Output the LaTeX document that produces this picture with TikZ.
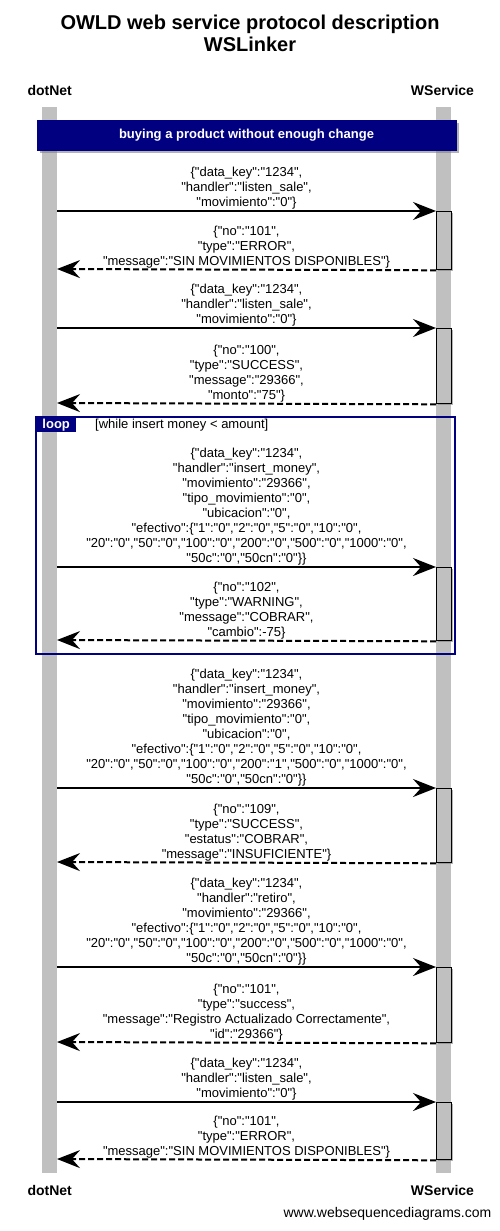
\documentclass[tikz,border=0pt]{standalone}
\usepackage{fontspec}
\setmainfont{Liberation Sans}[Ligatures=TeXOff]
\usetikzlibrary{arrows.meta, shadows}

\definecolor{navy}{RGB}{0,0,128}
\definecolor{lifegray}{RGB}{192,192,192}

\begin{document}
\begin{tikzpicture}[x=1pt, y=-1pt,
    txt/.style={font=\fontsize{13}{15}\selectfont, align=center, inner sep=0pt},
    actor/.style={font=\fontsize{14}{16}\selectfont\bfseries, inner sep=0pt},
    act/.style={draw, line width=1.3pt, fill=lifegray, minimum width=15pt, inner sep=0pt, anchor=north west,
      drop shadow={shadow xshift=1.5pt, shadow yshift=-1.5pt, opacity=0.6}},
    msg/.style={line width=2pt, -{Stealth[length=23pt, width=18pt, inset=8pt]}},
    ret/.style={msg, dash pattern=on 6pt off 3pt}
  ]
  \useasboundingbox (0,0) rectangle (500,1231);

  % title and participants
  \node[align=center, inner sep=0pt, font=\fontsize{20}{22}\selectfont\bfseries] (title) at (250,33)
    {OWLD web service protocol description\\WSLinker};
  \node[actor] (dotnet) at (49.7,90) {dotNet};
  \node[actor] (wservice) at (442.5,90) {WService};
  \node[actor] (dotnetb) at (49.7,1190) {dotNet};
  \node[actor] (wserviceb) at (442.5,1190) {WService};
  \node[anchor=east, inner sep=0pt, font=\fontsize{14}{16}\selectfont] (site) at (491.5,1214) {www.websequencediagrams.com};

  % lifelines
  \fill[lifegray] (42,107) rectangle (57,1173);
  \fill[lifegray] (436,107) rectangle (451,1173);

  % banner
  \node[fill=navy, draw=navy, text=white, minimum width=419pt, minimum height=30pt, inner sep=0pt,
    font=\fontsize{13}{15}\selectfont\bfseries, drop shadow={shadow xshift=2.5pt, shadow yshift=-2.5pt, opacity=0.6}]
    (banner) at (246.5,135) {buying a product without enough change};

  % loop frame
  \draw[navy, line width=2.5pt] (36,417) rectangle (455,654);
  \node[fill=navy, text=white, anchor=north west, minimum width=40pt, minimum height=15pt, inner sep=0pt,
    font=\fontsize{13}{15}\selectfont\bfseries] (looptag) at (36,417) {loop};
  \node[txt, anchor=west] (guard) at (95,425) {[while insert money < amount]};

  % activations
  \node[act, minimum height=58pt] (act1) at (436,211) {};
  \node[act, minimum height=75pt] (act2) at (436,328) {};
  \node[act, minimum height=73pt] (act3) at (436,567) {};
  \node[act, minimum height=74pt] (act4) at (436,788) {};
  \node[act, minimum height=75pt] (act5) at (436,967) {};
  \node[act, minimum height=57pt] (act6) at (436,1102) {};

  % ends on dotNet
  \coordinate (d1) at (57,211);  \coordinate (d1r) at (57,269);
  \coordinate (d2) at (57,328);  \coordinate (d2r) at (57,403);
  \coordinate (d3) at (57,567);  \coordinate (d3r) at (57,640);
  \coordinate (d4) at (57,788);  \coordinate (d4r) at (57,862);
  \coordinate (d5) at (57,967);  \coordinate (d5r) at (57,1042);
  \coordinate (d6) at (57,1102); \coordinate (d6r) at (57,1159);

  % messages
  \draw[msg] (d1) -- (act1.north west);
  \node[txt, anchor=south] (m1) at (246.5,209)
    {\{"data\_key":"1234",\\"handler":"listen\_sale",\\"movimiento":"0"\}};
  \draw[ret] (act1.south west) -- (d1r);
  \node[txt, anchor=south] (r1) at (246.5,268)
    {\{"no":"101",\\"type":"ERROR",\\"message":"SIN MOVIMIENTOS DISPONIBLES"\}};

  \draw[msg] (d2) -- (act2.north west);
  \node[txt, anchor=south] (m2) at (246.5,326)
    {\{"data\_key":"1234",\\"handler":"listen\_sale",\\"movimiento":"0"\}};
  \draw[ret] (act2.south west) -- (d2r);
  \node[txt, anchor=south] (r2) at (246.5,402)
    {\{"no":"100",\\"type":"SUCCESS",\\"message":"29366",\\"monto":"75"\}};

  \draw[msg] (d3) -- (act3.north west);
  \node[txt, anchor=south] (m3) at (246.5,565)
    {\{"data\_key":"1234",\\"handler":"insert\_money",\\"movimiento":"29366",\\"tipo\_movimiento":"0",\\"ubicacion":"0",\\
     "efectivo":\{"1":"0","2":"0","5":"0","10":"0",\\"20":"0","50":"0","100":"0","200":"0","500":"0","1000":"0",\\"50c":"0","50cn":"0"\}\}};
  \draw[ret] (act3.south west) -- (d3r);
  \node[txt, anchor=south] (r3) at (246.5,639)
    {\{"no":"102",\\"type":"WARNING",\\"message":"COBRAR",\\"cambio":-75\}};

  \draw[msg] (d4) -- (act4.north west);
  \node[txt, anchor=south] (m4) at (246.5,786)
    {\{"data\_key":"1234",\\"handler":"insert\_money",\\"movimiento":"29366",\\"tipo\_movimiento":"0",\\"ubicacion":"0",\\
     "efectivo":\{"1":"0","2":"0","5":"0","10":"0",\\"20":"0","50":"0","100":"0","200":"1","500":"0","1000":"0",\\"50c":"0","50cn":"0"\}\}};
  \draw[ret] (act4.south west) -- (d4r);
  \node[txt, anchor=south] (r4) at (246.5,861)
    {\{"no":"109",\\"type":"SUCCESS",\\"estatus":"COBRAR",\\"message":"INSUFICIENTE"\}};

  \draw[msg] (d5) -- (act5.north west);
  \node[txt, anchor=south] (m5) at (246.5,965)
    {\{"data\_key":"1234",\\"handler":"retiro",\\"movimiento":"29366",\\
     "efectivo":\{"1":"0","2":"0","5":"0","10":"0",\\"20":"0","50":"0","100":"0","200":"0","500":"0","1000":"0",\\"50c":"0","50cn":"0"\}\}};
  \draw[ret] (act5.south west) -- (d5r);
  \node[txt, anchor=south] (r5) at (246.5,1041)
    {\{"no":"101",\\"type":"success",\\"message":"Registro Actualizado Correctamente",\\"id":"29366"\}};

  \draw[msg] (d6) -- (act6.north west);
  \node[txt, anchor=south] (m6) at (246.5,1100)
    {\{"data\_key":"1234",\\"handler":"listen\_sale",\\"movimiento":"0"\}};
  \draw[ret] (act6.south west) -- (d6r);
  \node[txt, anchor=south] (r6) at (246.5,1158)
    {\{"no":"101",\\"type":"ERROR",\\"message":"SIN MOVIMIENTOS DISPONIBLES"\}};
\end{tikzpicture}
\end{document}
